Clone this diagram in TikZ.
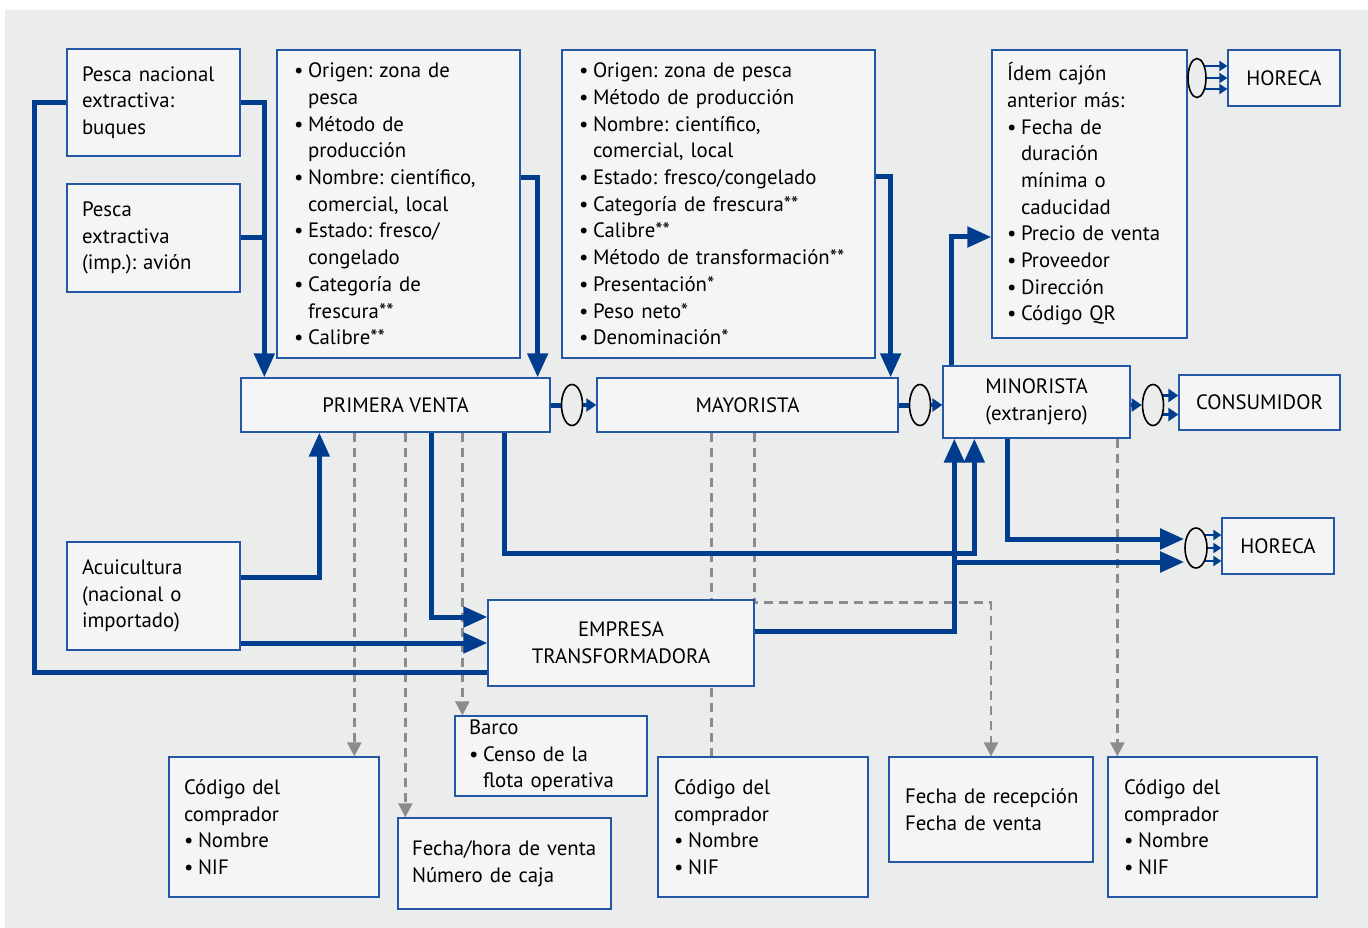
\documentclass[tikz,border=0pt]{standalone}
\usepackage{fontspec}
\setmainfont{PT Sans}
\usetikzlibrary{arrows.meta,shapes.geometric}
\definecolor{bgrey}{HTML}{EBECEC}
\definecolor{boxfill}{HTML}{F5F5F5}
\definecolor{boxline}{HTML}{2457A6}
\definecolor{flowblue}{HTML}{003D8F}
\definecolor{dashgrey}{HTML}{8C8C8C}
\pgfdeclarelayer{bg}
\pgfdeclarelayer{back}
\pgfsetlayers{bg,back,main}
\newcommand{\itm}{\makebox[14pt][l]{\textbullet}}
\newcommand{\ind}{\hspace*{14pt}}
\frenchspacing

\begin{document}
\begin{tikzpicture}[x=1pt,y=-1pt,font=\fontsize{20.8}{26.7}\selectfont]
\tikzstyle{box}=[draw=boxline,fill=boxfill,line width=1.3pt,rectangle,inner xsep=15pt,inner ysep=0pt,align=left]
\tikzstyle{cbox}=[box,align=center]
\tikzstyle{oval}=[ellipse,draw=black,line width=1.6pt,fill=bgrey,inner sep=0pt]
\tikzstyle{flow}=[draw=flowblue,line width=5pt,-{Triangle[length=24pt,width=20pt]}]
\tikzstyle{flowline}=[draw=flowblue,line width=5pt]
\tikzstyle{smalltip}=[draw=flowblue,line width=3.5pt,-{Triangle[length=10pt,width=13pt]}]
\tikzstyle{thintip}=[draw=flowblue,line width=2.8pt,-{Triangle[length=8pt,width=10pt]}]
\tikzstyle{dashlink}=[draw=dashgrey,line width=2.5pt,dash pattern=on 9pt off 6pt]
\tikzstyle{dasharrow}=[dashlink,-{Triangle[length=14pt,width=14pt]}]
\useasboundingbox (0,0) rectangle (1368,928);
\begin{pgfonlayer}{bg}
\fill[bgrey] (5,10) rectangle (1368,928);
\end{pgfonlayer}

\node[box,minimum width=173,minimum height=107,text width=143] (pesca1) at (153.5,102.5) {Pesca nacional\\extractiva:\\buques};
\node[box,minimum width=173,minimum height=108,text width=143] (pesca2) at (153.5,238) {Pesca\\extractiva\\(imp.): avión};
\node[box,minimum width=173,minimum height=108,text width=143] (acui) at (153.5,596) {Acuicultura\\(nacional o\\importado)};
\node[box,inner xsep=17pt,minimum width=243,minimum height=308,text width=209] (info1) at (398.5,204) {\itm Origen: zona de\\\ind pesca\\\itm Método de\\\ind producción\\\itm Nombre: científico,\\\ind comercial, local\\\itm Estado: fresco/\\\ind congelado\\\itm Categoría de\\\ind frescura**\\\itm Calibre**};
\node[box,inner xsep=17pt,minimum width=313,minimum height=308,text width=279] (info2) at (718.5,204) {\itm Origen: zona de pesca\\\itm Método de producción\\\itm Nombre: científico,\\\ind comercial, local\\\itm Estado: fresco/congelado\\\itm Categoría de frescura**\\\itm Calibre**\\\itm \mbox{Método de transformación**}\\\itm Presentación*\\\itm Peso neto*\\\itm Denominación*};
\node[box,minimum width=195,minimum height=288,text width=165] (info3) at (1089.5,194) {Ídem cajón\\anterior más:\\\itm Fecha de\\\ind duración\\\ind mínima o\\\ind caducidad\\\itm Precio de venta\\\itm Proveedor\\\itm Dirección\\\itm Código QR};
\node[cbox,minimum width=112,minimum height=56] (horeca1) at (1284,78) {HORECA};
\node[cbox,minimum width=309,minimum height=54] (pv) at (395.5,405) {PRIMERA VENTA};
\node[cbox,minimum width=301,minimum height=54] (may) at (747.5,405) {MAYORISTA};
\node[cbox,minimum width=187,minimum height=72] (min) at (1036.5,402) {MINORISTA\\(extranjero)};
\node[cbox,minimum width=161,minimum height=55] (cons) at (1259.5,402.5) {CONSUMIDOR};
\node[cbox,minimum width=112,minimum height=56] (horeca2) at (1278,546) {HORECA};
\node[cbox,minimum width=266,minimum height=86] (emp) at (621,643) {EMPRESA\\TRANSFORMADORA};
\node[box,inner xsep=14pt,minimum width=192,minimum height=80,text width=164] (barco) at (551,756) {Barco\\\itm Censo de la\\\ind flota operativa};
\node[box,minimum width=210,minimum height=140,text width=180] (cod1) at (274,827) {Código del\\comprador\\\itm Nombre\\\itm NIF};
\node[box,inner xsep=14pt,minimum width=213,minimum height=91,text width=185] (fecha1) at (504.5,863.5) {\mbox{Fecha/hora de venta}\\Número de caja};
\node[box,inner xsep=16pt,minimum width=210,minimum height=140,text width=178] (cod2) at (763,827) {Código del\\comprador\\\itm Nombre\\\itm NIF};
\node[box,inner xsep=16pt,minimum width=204,minimum height=105,text width=172] (fecha2) at (991,809.5) {\mbox{Fecha de recepción}\\Fecha de venta};
\node[box,inner xsep=16pt,minimum width=209,minimum height=140,text width=177] (cod3) at (1212.5,827) {Código del\\comprador\\\itm Nombre\\\itm NIF};

\node[oval,minimum width=21,minimum height=41] (o1) at (572,405) {};
\node[oval,minimum width=21,minimum height=41] (o2) at (920,405) {};
\node[oval,minimum width=21,minimum height=41] (o3) at (1153,405) {};
\node[oval,minimum width=18,minimum height=39] (o4) at (1197,78) {};
\node[oval,minimum width=22,minimum height=40] (o5) at (1196,548) {};

\coordinate (d1) at ([xshift=114]pv.south west);
\coordinate (d2) at ([xshift=165]pv.south west);
\coordinate (d3) at ([xshift=222]pv.south west);
\coordinate (d4) at ([xshift=115]may.south west);
\coordinate (d5) at ([xshift=158]may.south west);
\coordinate (d6) at ([xshift=175]min.south west);
\coordinate (m2) at ([xshift=12]min.south west);
\coordinate (e1) at ([yshift=9]o5.west);
\coordinate (e2) at ([yshift=-14]o5.west);
\coordinate (c1) at ([yshift=9.5]o3.center);
\coordinate (c2) at ([yshift=-9.5]o3.center);
\coordinate (h1) at ([yshift=12]o4.center);
\coordinate (h2) at (o4.center);
\coordinate (h3) at ([yshift=-11]o4.center);
\coordinate (k1) at ([yshift=13]o5.center);
\coordinate (k2) at (o5.center);
\coordinate (k3) at ([yshift=-13]o5.center);

\begin{pgfonlayer}{back}
\draw[dasharrow] (d1) -- (d1 |- cod1.north);
\draw[dasharrow] (d2) -- (d2 |- fecha1.north);
\draw[dasharrow] (d3) -- (d3 |- barco.north);
\draw[dashlink] (d4) -- (d4 |- cod2.north);
\draw[dasharrow] (d5) -- ++(0,170) -| (fecha2.north);
\draw[dasharrow] (d6) -- (d6 |- cod3.north);
\draw[smalltip] (c1) -- (c1 -| cons.west);
\draw[smalltip] (c2) -- (c2 -| cons.west);
\draw[thintip] (h1) -- (h1 -| horeca1.west);
\draw[thintip] (h2) -- (h2 -| horeca1.west);
\draw[thintip] (h3) -- (h3 -| horeca1.west);
\draw[thintip] (k1) -- (k1 -| horeca2.west);
\draw[thintip] (k2) -- (k2 -| horeca2.west);
\draw[thintip] (k3) -- (k3 -| horeca2.west);
\end{pgfonlayer}

\draw[flowline] (pesca1.west) -- ++(-32,0) |- ([yshift=14]emp.south west);
\draw[flow] (pesca1.east) -| ([xshift=24]pv.north west);
\draw[flowline] (pesca2.east) -- ++(25,0);
\draw[flow] ([yshift=26]info1.east) -| ([xshift=-13]pv.north east);
\draw[flow] ([yshift=27]info2.east) -| ([xshift=-8]may.north east);
\draw[flowline] (pv.east) -- (o1.west);
\draw[smalltip] (o1.east) -- (may.west);
\draw[flowline] (may.east) -- (o2.west);
\draw[smalltip] (o2.east) -- (o2.east -| min.west);
\draw[smalltip] (min.east |- o3.west) -- (o3.west);
\draw[flow] ([xshift=9]min.north west) |- ([yshift=-43]info3.west);
\draw[flow] ([yshift=19]acui.east) -| ([xshift=79]pv.south west);
\draw[flow] (acui.east |- emp.west) -- (emp.west);
\draw[flow] ([xshift=191]pv.south west) |- ([yshift=26]emp.west);
\draw[flow] ([xshift=-46]pv.south east) -- ++(0,121) -| ([xshift=32]min.south west);
\draw[flow] ([yshift=12]emp.east) -| (m2);
\draw[flow] (m2 |- e2) -- (e2);
\draw[flow] ([xshift=65]min.south west) |- (e1);
\end{tikzpicture}
\end{document}
